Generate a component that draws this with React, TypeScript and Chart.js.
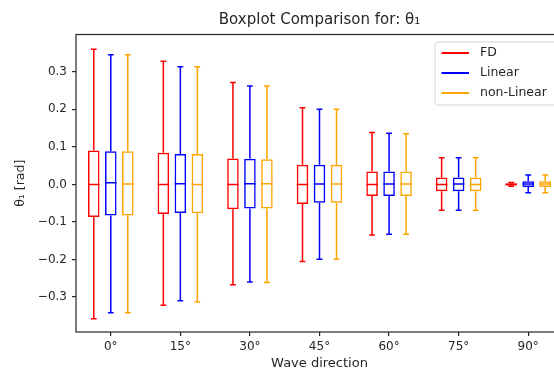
import React, { useEffect, useRef } from 'react';
import { Chart, registerables } from 'chart.js';

Chart.register(...registerables);

const CATEGORIES = ['0°', '15°', '30°', '45°', '60°', '75°', '90°'];
const SERIES = ['FD', 'Linear', 'non-Linear'];
const COLORS = ['#ff0000', '#0000ff', '#ffa500'];

// box statistics per category: [min, q1, median, q3, max]
const FD_STATS = [
  [-0.358, -0.087, 0.0, 0.09, 0.36],
  [-0.322, -0.079, 0.0, 0.084, 0.328],
  [-0.267, -0.066, 0.0, 0.069, 0.271],
  [-0.205, -0.052, 0.0, 0.052, 0.204],
  [-0.135, -0.031, 0.0, 0.034, 0.138],
  [-0.069, -0.018, 0.0, 0.018, 0.071],
  [-0.005, -0.003, 0.0, 0.003, 0.005],
];
const LINEAR_STATS = [
  [-0.342, -0.083, 0.004, 0.088, 0.345],
  [-0.31, -0.076, 0.002, 0.081, 0.313],
  [-0.26, -0.064, 0.002, 0.068, 0.262],
  [-0.199, -0.049, 0.001, 0.052, 0.2],
  [-0.133, -0.031, 0.001, 0.034, 0.136],
  [-0.069, -0.018, 0.001, 0.018, 0.071],
  [-0.022, -0.007, 0.001, 0.0085, 0.025],
];
const NONLINEAR_STATS = [
  [-0.342, -0.083, 0.001, 0.088, 0.345],
  [-0.313, -0.077, 0.0, 0.081, 0.313],
  [-0.261, -0.064, 0.002, 0.067, 0.262],
  [-0.199, -0.049, 0.001, 0.052, 0.2],
  [-0.133, -0.031, 0.001, 0.034, 0.135],
  [-0.069, -0.018, 0.0, 0.018, 0.071],
  [-0.022, -0.007, 0.001, 0.008, 0.025],
];
const ALL_STATS = [FD_STATS, LINEAR_STATS, NONLINEAR_STATS];

const Y_TICKS = [-0.3, -0.2, -0.1, 0.0, 0.1, 0.2, 0.3];
const Y_MIN = -0.393;
const Y_MAX = 0.399;

const TITLE = 'Boxplot Comparison for: θ₁';
const Y_TITLE = 'θ₁ [rad]';
const X_TITLE = 'Wave direction';

const FONT = "'DejaVu Sans', sans-serif";
const TEXT_COLOR = '#262626';

const boxPlugin = {
  id: 'boxWhiskers',
  afterDatasetsDraw(chart: any) {
    const ctx = chart.ctx;
    const ys = chart.scales.y;
    ctx.save();
    chart.data.datasets.forEach((ds: any, i: number) => {
      const meta = chart.getDatasetMeta(i);
      meta.data.forEach((bar: any, j: number) => {
        const st = ds.stats[j];
        const x = bar.x;
        const w = bar.width;
        const yMin = ys.getPixelForValue(st[0]);
        const yQ1 = ys.getPixelForValue(st[1]);
        const yMed = ys.getPixelForValue(st[2]);
        const yQ3 = ys.getPixelForValue(st[3]);
        const yMax = ys.getPixelForValue(st[4]);
        ctx.strokeStyle = ds.borderColor;
        ctx.lineWidth = 1.5;
        ctx.beginPath();
        ctx.moveTo(x, yQ3);
        ctx.lineTo(x, yMax);
        ctx.moveTo(x, yQ1);
        ctx.lineTo(x, yMin);
        ctx.moveTo(x - w / 4, yMax);
        ctx.lineTo(x + w / 4, yMax);
        ctx.moveTo(x - w / 4, yMin);
        ctx.lineTo(x + w / 4, yMin);
        ctx.moveTo(x - w / 2, yMed);
        ctx.lineTo(x + w / 2, yMed);
        ctx.stroke();
      });
    });
    ctx.restore();
  },
};

const framePlugin = {
  id: 'frameTitleLegend',
  afterDraw(chart: any) {
    const ctx = chart.ctx;
    const a = chart.chartArea;
    ctx.save();
    // frame
    ctx.strokeStyle = '#262626';
    ctx.lineWidth = 1.2;
    ctx.strokeRect(a.left, a.top, a.right - a.left, a.bottom - a.top);
    // title
    ctx.fillStyle = TEXT_COLOR;
    ctx.font = `15px ${FONT}`;
    ctx.textAlign = 'center';
    ctx.textBaseline = 'middle';
    ctx.fillText(TITLE, (a.left + a.right) / 2, a.top - 14);
    // legend
    const lx = a.right - 128;
    const ly = a.top + 7.5;
    const lw = 122.5;
    const lh = 63;
    const r = 3;
    ctx.beginPath();
    ctx.moveTo(lx + r, ly);
    ctx.lineTo(lx + lw - r, ly);
    ctx.arcTo(lx + lw, ly, lx + lw, ly + r, r);
    ctx.lineTo(lx + lw, ly + lh - r);
    ctx.arcTo(lx + lw, ly + lh, lx + lw - r, ly + lh, r);
    ctx.lineTo(lx + r, ly + lh);
    ctx.arcTo(lx, ly + lh, lx, ly + lh - r, r);
    ctx.lineTo(lx, ly + r);
    ctx.arcTo(lx, ly, lx + r, ly, r);
    ctx.closePath();
    ctx.fillStyle = 'rgba(255,255,255,0.85)';
    ctx.fill();
    ctx.strokeStyle = '#d5d5d5';
    ctx.lineWidth = 1;
    ctx.stroke();
    ctx.font = `12.5px ${FONT}`;
    ctx.textAlign = 'left';
    ctx.textBaseline = 'middle';
    chart.data.datasets.forEach((ds: any, i: number) => {
      const ry = ly + 11 + i * 20;
      ctx.strokeStyle = ds.borderColor;
      ctx.lineWidth = 2;
      ctx.beginPath();
      ctx.moveTo(lx + 6.5, ry);
      ctx.lineTo(lx + 34, ry);
      ctx.stroke();
      ctx.fillStyle = TEXT_COLOR;
      ctx.fillText(ds.label, lx + 45, ry);
    });
    ctx.restore();
  },
};

export default function App() {
  const ref = useRef<HTMLCanvasElement>(null);
  useEffect(() => {
    if (!ref.current) return;
    const chart = new Chart(ref.current, {
      type: 'bar',
      data: {
        labels: CATEGORIES,
        datasets: SERIES.map((name, i) => ({
          label: name,
          data: ALL_STATS[i].map((s) => [s[1], s[3]]),
          stats: ALL_STATS[i],
          borderColor: COLORS[i],
          backgroundColor: 'rgba(0,0,0,0)',
          borderWidth: 1.5,
          borderSkipped: false,
          categoryPercentage: 0.733,
          barPercentage: 0.68,
        })) as any,
      },
      options: {
        animation: false,
        responsive: false,
        layout: { padding: { left: 0, right: 7, top: 34.5, bottom: 0 } },
        plugins: {
          legend: { display: false },
          title: { display: false },
          tooltip: { enabled: false },
        },
        scales: {
          x: {
            type: 'category',
            offset: true,
            grid: {
              offset: false,
              drawOnChartArea: false,
              drawTicks: true,
              tickLength: 4,
              color: '#262626',
              lineWidth: 1.2,
            },
            border: { display: false },
            ticks: {
              color: TEXT_COLOR,
              font: { family: FONT, size: 12 },
              padding: 3.5,
              maxRotation: 0,
            },
            title: {
              display: true,
              text: X_TITLE,
              color: TEXT_COLOR,
              font: { family: FONT, size: 13 },
              padding: { top: 0, bottom: -1 },
            },
            afterFit: (scale: any) => {
              scale.height = 38;
            },
          },
          y: {
            type: 'linear',
            min: Y_MIN,
            max: Y_MAX,
            grid: {
              drawOnChartArea: false,
              drawTicks: true,
              tickLength: 4,
              color: '#262626',
              lineWidth: 1.2,
            },
            border: { display: false },
            afterBuildTicks: (scale: any) => {
              scale.ticks = Y_TICKS.map((v) => ({ value: v }));
            },
            ticks: {
              color: TEXT_COLOR,
              font: { family: FONT, size: 12 },
              padding: 5,
              callback: (v: any) => {
                const n = Number(v);
                return n < -1e-9 ? '\u2212' + Math.abs(n).toFixed(1) : Math.abs(n).toFixed(1);
              },
            },
            title: {
              display: true,
              text: Y_TITLE,
              color: TEXT_COLOR,
              font: { family: FONT, size: 12.5 },
              padding: { top: 13, bottom: 0 },
            },
            afterFit: (scale: any) => {
              scale.width = 76;
            },
          },
        },
      },
      plugins: [boxPlugin, framePlugin],
    });
    return () => chart.destroy();
  }, []);
  return (
    <div style={{ position: 'fixed', left: 0, top: 0, width: 554, height: 370, overflow: 'hidden', background: '#fff' }}>
      <canvas ref={ref} width={570} height={370} style={{ display: 'block', width: 570, height: 370 }} />
    </div>
  );
}
